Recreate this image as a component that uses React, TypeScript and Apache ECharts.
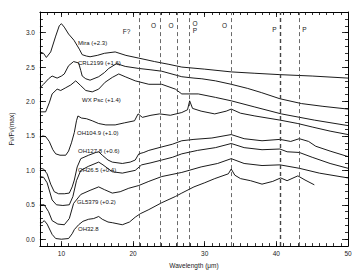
import React, { useEffect, useRef } from "react";
import * as echarts from "echarts";

// ---- data (wavelength in μm, normalized flux + offset) ----
const miraX = [7.0, 7.5, 7.9, 8.5, 9.2, 9.7, 10.0, 10.4, 11.0, 11.75, 12.5, 12.9, 13.5, 14.0, 15.0, 16.0, 17.5, 19.0, 20.8, 23.0, 25.0, 26.8, 30.0, 33.7, 37.0, 40.5, 45.0, 50.0];
const miraY = [2.72, 2.70, 2.64, 2.72, 2.95, 3.10, 3.13, 3.08, 2.98, 2.89, 2.76, 2.68, 2.66, 2.65, 2.67, 2.70, 2.72, 2.67, 2.63, 2.58, 2.54, 2.50, 2.47, 2.43, 2.41, 2.39, 2.37, 2.34];

const crlX = [7.0, 7.5, 8.2, 8.7, 9.4, 10.0, 10.4, 11.0, 11.7, 12.4, 12.7, 12.9, 13.4, 14.0, 15.2, 16.0, 16.6, 17.7, 18.9, 20.8, 22.5, 24.0, 26.8, 28.5, 29.6, 31.5, 33.7, 36.0, 37.9, 40.5, 43.5, 46.5, 50.0];
const crlY = [2.20, 2.25, 2.33, 2.37, 2.34, 2.37, 2.40, 2.52, 2.58, 2.56, 2.45, 2.37, 2.33, 2.31, 2.36, 2.42, 2.48, 2.55, 2.51, 2.48, 2.46, 2.44, 2.36, 2.34, 2.33, 2.30, 2.25, 2.19, 2.13, 2.04, 1.97, 1.93, 1.89];

const wxX = [7.0, 7.8, 8.3, 8.7, 9.4, 9.9, 10.6, 11.3, 12.0, 12.7, 13.4, 14.3, 15.2, 16.1, 17.1, 18.0, 18.9, 20.3, 22.2, 24.0, 25.9, 26.8, 29.1, 31.5, 33.7, 37.0, 40.7, 45.3, 50.0];
const wxY = [1.85, 1.85, 1.98, 2.11, 2.18, 2.16, 2.20, 2.24, 2.30, 2.23, 2.16, 2.14, 2.18, 2.28, 2.35, 2.40, 2.36, 2.30, 2.25, 2.25, 2.18, 2.11, 2.11, 2.06, 2.01, 1.92, 1.82, 1.73, 1.65];

const oh1049X = [7.0, 7.4, 7.8, 8.3, 8.8, 9.2, 9.8, 10.6, 11.0, 11.4, 11.8, 12.1, 12.3, 12.8, 13.5, 14.3, 15.2, 16.2, 17.5, 18.8, 20.2, 20.7, 21.3, 22.5, 23.7, 25.2, 26.8, 27.6, 27.9, 28.3, 29.5, 31.4, 33.0, 33.7, 35.0, 37.0, 40.5, 43.0, 45.0, 47.5, 50.0];
const oh1049Y = [1.48, 1.50, 1.49, 1.42, 1.30, 1.24, 1.22, 1.22, 1.28, 1.40, 1.55, 1.72, 1.79, 1.76, 1.75, 1.72, 1.68, 1.66, 1.66, 1.69, 1.72, 1.82, 1.77, 1.80, 1.82, 1.80, 1.84, 1.88, 2.01, 1.90, 1.86, 1.82, 1.86, 1.89, 1.83, 1.79, 1.73, 1.68, 1.63, 1.57, 1.52];

const oh1278X = [7.0, 7.5, 8.0, 8.5, 9.0, 9.6, 10.4, 11.1, 11.5, 11.8, 12.2, 12.7, 13.8, 14.8, 15.2, 15.7, 16.5, 17.1, 18.5, 19.6, 20.3, 20.8, 21.5, 22.2, 24.0, 25.5, 26.8, 28.5, 31.0, 33.7, 35.5, 38.0, 40.5, 42.0, 43.2, 44.5, 45.5, 47.5, 50.0];
const oh1278Y = [1.03, 1.02, 0.95, 0.80, 0.69, 0.66, 0.66, 0.67, 0.76, 0.86, 1.05, 1.17, 1.22, 1.26, 1.27, 1.22, 1.15, 1.12, 1.10, 1.12, 1.15, 1.24, 1.26, 1.29, 1.34, 1.38, 1.43, 1.45, 1.47, 1.52, 1.46, 1.43, 1.45, 1.42, 1.46, 1.42, 1.35, 1.28, 1.20];

const oh265X = [7.0, 7.5, 8.0, 8.7, 9.3, 10.2, 11.1, 11.6, 12.1, 12.7, 13.8, 15.2, 15.8, 17.1, 18.5, 20.3, 21.2, 22.5, 24.0, 25.5, 26.8, 29.0, 31.5, 33.7, 35.5, 38.0, 40.5, 41.5, 43.2, 45.0, 47.5, 50.0];
const oh265Y = [0.91, 0.90, 0.82, 0.57, 0.50, 0.49, 0.50, 0.62, 0.85, 1.00, 1.06, 1.12, 1.08, 0.98, 0.96, 1.00, 1.08, 1.11, 1.15, 1.19, 1.24, 1.29, 1.33, 1.39, 1.33, 1.30, 1.31, 1.27, 1.26, 1.19, 1.10, 1.03];

const gl5379X = [7.0, 7.6, 8.2, 8.7, 9.5, 10.4, 11.1, 11.7, 12.7, 14.0, 15.2, 16.0, 17.1, 18.2, 19.4, 20.8, 22.2, 24.0, 26.8, 29.5, 31.8, 33.7, 35.5, 38.0, 40.5, 43.2, 46.0, 50.0];
const gl5379Y = [0.50, 0.50, 0.40, 0.27, 0.22, 0.21, 0.30, 0.52, 0.65, 0.71, 0.76, 0.72, 0.67, 0.69, 0.74, 0.78, 0.84, 0.91, 0.97, 1.05, 1.10, 1.17, 1.10, 1.07, 1.08, 1.03, 0.96, 0.89];

const oh328X = [7.0, 7.3, 7.6, 8.0, 8.7, 9.2, 10.0, 11.0, 11.5, 11.8, 12.4, 13.0, 13.8, 14.5, 15.2, 15.7, 16.5, 17.1, 18.5, 19.5, 20.3, 21.0, 22.2, 24.0, 25.9, 26.8, 28.5, 30.0, 31.4, 33.3, 33.7, 34.2, 35.0, 36.4, 38.0, 39.5, 40.6, 41.5, 43.0, 44.0, 45.3];
const oh328Y = [0.24, 0.24, 0.27, 0.22, 0.07, 0.01, 0.00, 0.01, 0.08, 0.14, 0.21, 0.26, 0.29, 0.30, 0.33, 0.29, 0.25, 0.24, 0.21, 0.25, 0.32, 0.37, 0.43, 0.53, 0.62, 0.67, 0.76, 0.82, 0.88, 0.95, 1.02, 0.93, 0.88, 0.85, 0.80, 0.84, 0.89, 0.85, 0.92, 0.86, 0.79];

const spectraNames = ["Mira (+2.3)", "CRL2199 (+1.6)", "WX Psc (+1.4)", "OH104.9 (+1.0)", "OH127.8 (+0.6)", "OH26.5 (+0.4)", "GL5379 (+0.2)", "OH32.8"];
const spectraX = [miraX, crlX, wxX, oh1049X, oh1278X, oh265X, gl5379X, oh328X];
const spectraY = [miraY, crlY, wxY, oh1049Y, oh1278Y, oh265Y, gl5379Y, oh328Y];

// dust feature positions (μm) and their tags
const featureX = [20.8, 23.8, 26.2, 27.9, 33.7, 40.5, 43.2];
const featureTags = ["F?", "O", "O", "O\nP", "O", "P", "P"];

const xMajorTicks = [10, 20, 30, 40, 50];
const yMajorTicks = [0.0, 0.5, 1.0, 1.5, 2.0, 2.5, 3.0];

// annotation placement (pixels)
const nameLabelPos: [number, number][] = [
  [78, 43], [78, 63], [82, 100], [77, 133], [78, 150.5], [78, 169.5], [77, 202], [78, 229],
];
const tagPos: [number, number, string][] = [
  [126.5, 31.5, "center"], [153.5, 25, "center"], [171, 25, "center"], [195, 27, "center"],
  [224.5, 25, "center"], [274.5, 29.5, "center"], [304.5, 29.5, "center"],
];

const FONT = "'Liberation Sans', Arial, sans-serif";

export default function App() {
  const ref = useRef<HTMLDivElement>(null);
  useEffect(() => {
    if (!ref.current) return;
    const chart = echarts.init(ref.current, null, { renderer: "svg" });
    const black = "#000";
    const minorX = (pos: "top" | "bottom") => ({
      type: "value", position: pos, min: 7, max: 50, interval: 1,
      axisLine: { show: true, onZero: false, lineStyle: { color: black, width: 1 } },
      axisTick: { show: true, inside: true, length: 3, lineStyle: { color: black, width: 0.8 } },
      axisLabel: { show: false }, splitLine: { show: false },
    });
    const majorX = (pos: "top" | "bottom", labels: boolean) => ({
      type: "value", position: pos, min: 7, max: 50,
      axisLine: { show: false, onZero: false },
      axisTick: { show: true, inside: true, length: 5, customValues: xMajorTicks, lineStyle: { color: black, width: 0.8 } },
      axisLabel: { show: labels, customValues: xMajorTicks, fontSize: 6.5, color: "#222", margin: 4, fontFamily: FONT },
      splitLine: { show: false },
      ...(labels ? { name: "Wavelength (μm)", nameLocation: "middle", nameGap: 13, nameTextStyle: { fontSize: 6.5, color: "#222", fontFamily: FONT } } : {}),
    });
    const minorY = (pos: "left" | "right") => ({
      type: "value", position: pos, min: -0.1, max: 3.3, interval: 0.1,
      axisLine: { show: true, onZero: false, lineStyle: { color: black, width: 1 } },
      axisTick: { show: true, inside: true, length: 3, lineStyle: { color: black, width: 0.8 } },
      axisLabel: { show: false }, splitLine: { show: false },
    });
    const majorY = (pos: "left" | "right", labels: boolean) => ({
      type: "value", position: pos, min: -0.1, max: 3.3,
      axisLine: { show: false, onZero: false },
      axisTick: { show: true, inside: true, length: 6, customValues: yMajorTicks, lineStyle: { color: black, width: 0.8 } },
      axisLabel: { show: labels, customValues: yMajorTicks, fontSize: 6.5, color: "#222", margin: 5, fontFamily: FONT, formatter: (v: number) => v.toFixed(1) },
      splitLine: { show: false },
      ...(labels ? { name: "Fν/Fν(max)", nameLocation: "middle", nameRotate: 90, nameGap: 19, nameTextStyle: { fontSize: 6.5, color: "#222", fontFamily: FONT } } : {}),
    });

    const series: any[] = spectraNames.map((n, i) => ({
      type: "line", name: n, xAxisIndex: 0, yAxisIndex: 0, showSymbol: false, symbol: "none",
      data: spectraX[i].map((x, j) => [x, spectraY[i][j]]),
      lineStyle: { color: black, width: 0.9 },
    }));
    series.push({
      type: "line", name: "features", xAxisIndex: 0, yAxisIndex: 0, data: [], symbol: "none",
      markLine: {
        silent: true, symbol: ["none", "none"], label: { show: false },
        data: featureX.map((x) => ({ xAxis: x, lineStyle: { type: [4, 3], color: "#444", width: x === 40.5 ? 1.4 : 0.8 } })),
      },
    });

    const graphics: any[] = [];
    spectraNames.forEach((n, i) => {
      graphics.push({ type: "text", x: nameLabelPos[i][0], y: nameLabelPos[i][1], style: { text: n, fontSize: 6, fill: "#111", fontFamily: FONT, textAlign: "left", textVerticalAlign: "middle" } });
    });
    featureTags.forEach((t, i) => {
      graphics.push({ type: "text", x: tagPos[i][0], y: tagPos[i][1], style: { text: t, fontSize: 6.5, lineHeight: 7, fill: "#222", fontFamily: FONT, textAlign: tagPos[i][2], textVerticalAlign: "middle" } });
    });

    chart.setOption({
      animation: false,
      backgroundColor: "#fff",
      grid: { left: 37.5, right: 12, top: 12, bottom: 24, containLabel: false },
      xAxis: [minorX("bottom"), majorX("bottom", true), minorX("top"), majorX("top", false)],
      yAxis: [minorY("left"), majorY("left", true), minorY("right"), majorY("right", false)],
      series,
      graphic: graphics,
    });
    return () => chart.dispose();
  }, []);
  return <div ref={ref} style={{ position: "fixed", left: 0, top: 0, width: 360, height: 274 }} />;
}
